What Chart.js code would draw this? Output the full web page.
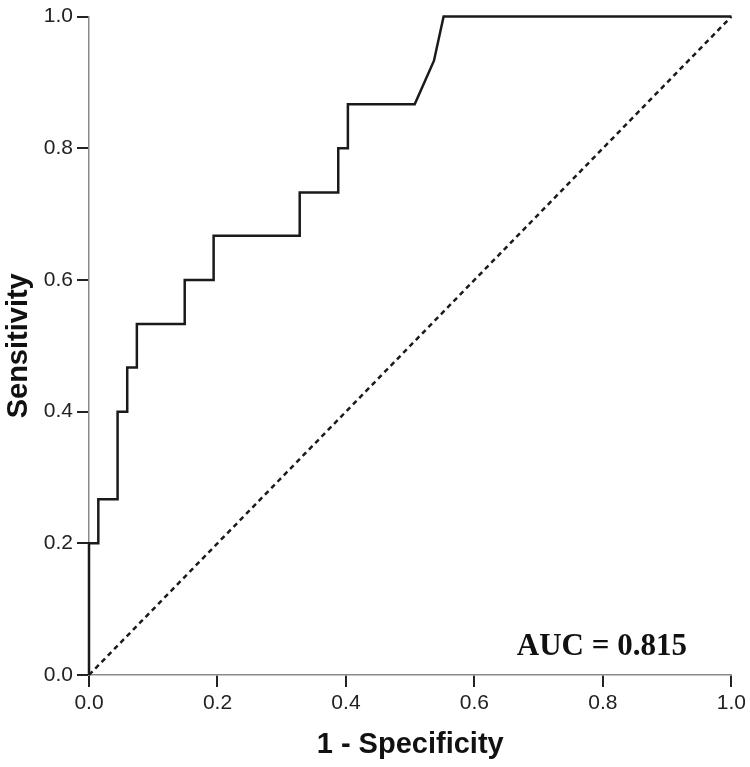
<!DOCTYPE html>
<html>
<head>
<meta charset="utf-8">
<script src="https://cdn.jsdelivr.net/npm/chart.js@4.4.1/dist/chart.umd.min.js"></script>
<style>
  html, body { margin: 0; padding: 0; background: #fff; }
  #wrap { width: 750px; height: 767px; position: relative; }
</style>
</head>
<body>
<div id="wrap"><canvas id="roc"></canvas></div>
<script>
// ROC curve points (1 - specificity, sensitivity)
const fpr = [0, 0, 0.0145, 0.0145, 0.0445, 0.0445, 0.0595, 0.0595, 0.0745, 0.0745,
             0.149, 0.149, 0.194, 0.194, 0.328, 0.328, 0.388, 0.388, 0.403, 0.403,
             0.507, 0.537, 0.552, 1.0];
const tpr = [0, 0.2, 0.2, 0.267, 0.267, 0.4, 0.4, 0.467, 0.467, 0.533,
             0.533, 0.6, 0.6, 0.667, 0.667, 0.733, 0.733, 0.8, 0.8, 0.867,
             0.867, 0.933, 1.0, 1.0];
// reference diagonal
const refX = [0, 1];
const refY = [0, 1];
const tickValues = [0, 0.2, 0.4, 0.6, 0.8, 1.0];
const aucLabel = 'AUC = 0.815';

const tickFont = { family: "'Liberation Sans Narrow', 'Liberation Sans', Arial, sans-serif", size: 21 };
const titleFont = { family: "'Liberation Sans', Arial, sans-serif", size: 29, weight: 'bold', lineHeight: 1 };

const aucText = {
  id: 'aucText',
  afterDatasetsDraw(chart) {
    const { ctx, scales } = chart;
    ctx.save();
    ctx.font = "bold 31px 'Liberation Serif', 'Times New Roman', serif";
    ctx.fillStyle = '#111';
    ctx.textAlign = 'left';
    ctx.textBaseline = 'alphabetic';
    ctx.fillText(aucLabel, scales.x.getPixelForValue(0.666), scales.y.getPixelForValue(0.03));
    ctx.restore();
  }
};

function axis(title, pad) {
  return {
    type: 'linear',
    min: 0,
    max: 1,
    afterBuildTicks: s => { s.ticks = tickValues.map(v => ({ value: v })); },
    ticks: {
      font: tickFont,
      color: '#222',
      padding: 4,
      maxRotation: 0,
      callback: v => v.toFixed(1)
    },
    grid: {
      drawOnChartArea: false,
      drawTicks: true,
      tickLength: 12,
      color: '#222',
      lineWidth: 2
    },
    border: { display: true, color: '#8a8a8a', width: 1.5 },
    title: { display: true, text: title, font: titleFont, color: '#111', padding: pad }
  };
}

const xAxis = axis('1 - Specificity', { top: 0, bottom: 8 });
xAxis.afterFit = s => { s.height = 92; };
const yAxis = axis('Sensitivity', { top: 4, bottom: 0 });
yAxis.afterFit = s => { s.width = 89; };

new Chart(document.getElementById('roc'), {
  type: 'line',
  data: {
    datasets: [
      {
        label: 'ROC',
        data: fpr.map((x, i) => ({ x: x, y: tpr[i] })),
        borderColor: '#1a1a1a',
        borderWidth: 2.5,
        pointRadius: 0,
        tension: 0,
        clip: false
      },
      {
        label: 'Reference',
        data: refX.map((x, i) => ({ x: x, y: refY[i] })),
        borderColor: '#1a1a1a',
        borderWidth: 2.5,
        borderDash: [5, 4],
        pointRadius: 0,
        tension: 0,
        clip: false
      }
    ]
  },
  options: {
    responsive: true,
    maintainAspectRatio: false,
    animation: false,
    layout: { padding: { top: 12, right: 18, left: 0, bottom: 0 } },
    plugins: { legend: { display: false }, tooltip: { enabled: false } },
    scales: { x: xAxis, y: yAxis }
  },
  plugins: [aucText]
});
</script>
</body>
</html>
